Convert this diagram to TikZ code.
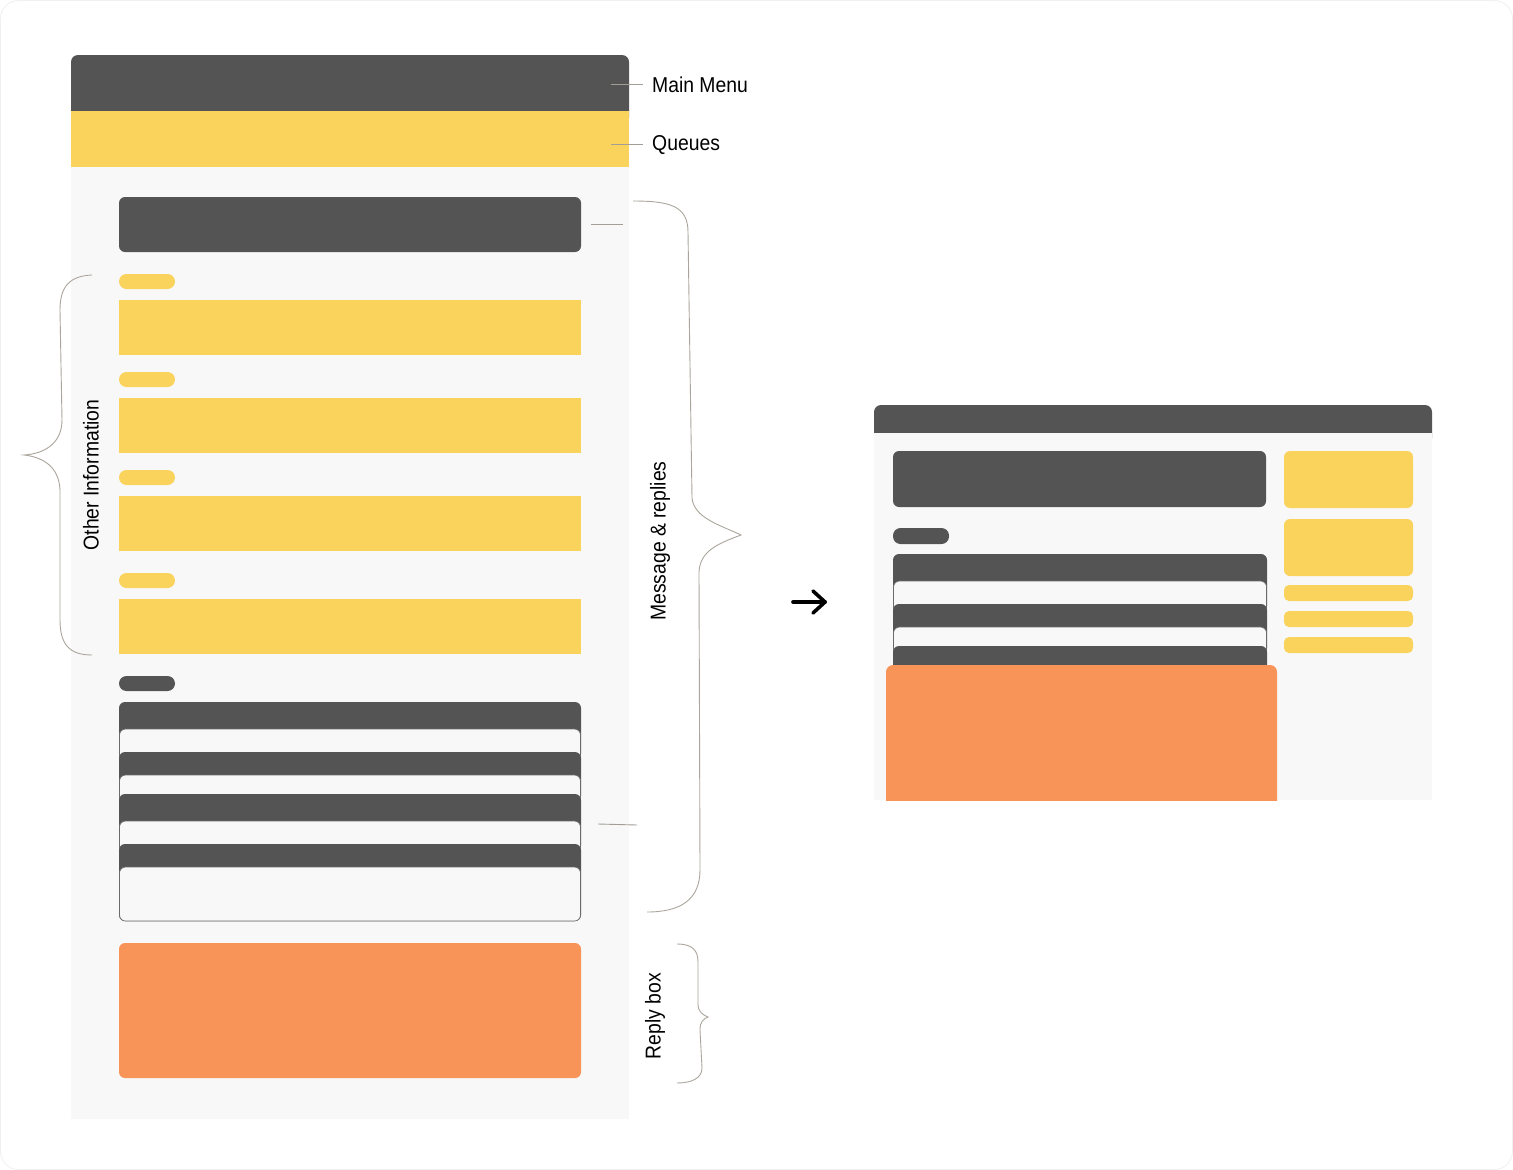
\documentclass[tikz,border=0pt]{standalone}
\usepackage{fontspec}
\setmainfont{Liberation Sans}[FakeStretch=0.9]
\usetikzlibrary{arrows.meta}
\definecolor{dk}{HTML}{545454}
\definecolor{yl}{HTML}{FAD35C}
\definecolor{orng}{HTML}{F99459}
\definecolor{lt}{HTML}{F8F8F8}
\definecolor{brc}{HTML}{ABA69D}
\definecolor{cardline}{HTML}{6A6A6A}
\tikzset{
  lbl/.style={font=\fontsize{21.5}{26}\selectfont, text=black, inner sep=0pt},
  bracepath/.style={draw=brc, line width=0.9pt},
  ptr/.style={draw=brc!80!gray, line width=0.9pt},
  cardbody/.style={fill=lt, draw=cardline, line width=0.7pt, rounded corners=6pt},
  cardhead/.style={fill=dk, rounded corners=6pt},
  pill/.style={rounded corners=7.5pt},
  arrowline/.style={line width=3.6pt, line cap=round, line join=round},
}
\begin{document}
\begin{tikzpicture}[x=1pt,y=-1pt]
\useasboundingbox (0,0) rectangle (1513,1170);
\draw[gray!12, fill=white, rounded corners=18pt, line width=0.8pt] (0.5,0.5) rectangle (1512.5,1169.5);

% ---------- left mockup ----------
\fill[dk, rounded corners=7pt] (71,55) rectangle (629,125);
\fill[yl] (71,111) rectangle (629,167);
\fill[lt] (71,167) rectangle (629,1119);

\fill[dk, rounded corners=6pt] (119,197) rectangle (581,252);

\fill[yl, pill] (119,274) rectangle (175,289);
\fill[yl] (119,300) rectangle (581,355);
\fill[yl, pill] (119,372) rectangle (175,387);
\fill[yl] (119,398) rectangle (581,453);
\fill[yl, pill] (119,470) rectangle (175,485);
\fill[yl] (119,496) rectangle (581,551);
\fill[yl, pill] (119,573) rectangle (175,588);
\fill[yl] (119,599) rectangle (581,654);

\fill[dk, pill] (119,676) rectangle (175,691);

\path[cardhead] (119,702) rectangle (581,760);
\path[cardbody] (119.5,729) rectangle (580.5,760);
\path[cardhead] (119,752) rectangle (581,802);
\path[cardbody] (119.5,775) rectangle (580.5,802);
\path[cardhead] (119,794) rectangle (581,852);
\path[cardbody] (119.5,821) rectangle (580.5,852);
\path[cardhead] (119,844) rectangle (581,921);
\path[cardbody] (119.5,867) rectangle (580.5,921);

\fill[orng, rounded corners=6pt] (119,943) rectangle (581,1078);

% labels and pointers
\node[lbl, anchor=base west] (mainmenu) at (652,92) {Main Menu};
\node[lbl, anchor=base west] (queues) at (652,150) {Queues};
\coordinate (mmA) at (611,84);
\coordinate (mmB) at (643,84);
\coordinate (qA) at (611,144);
\coordinate (qB) at (643,144);
\draw[ptr] (mmA) -- (mmB);
\draw[ptr] (qA) -- (qB);

\coordinate (msgA) at (591,224);
\coordinate (msgB) at (623,224);
\draw[ptr] (msgA) -- (msgB);
\coordinate (repA) at (598,824);
\coordinate (repB) at (637,825);
\draw[ptr] (repA) -- (repB);

% braces
\draw[bracepath] (92,275) .. controls (70,276) and (60,286) .. (60,310) -- (62,420)
  .. controls (62,445) and (42,454) .. (24,455)
  .. controls (42,457) and (59,466) .. (60,490) -- (60,620)
  .. controls (60,645) and (70,655) .. (92,655);
\node[lbl, rotate=90] (otherinfo) at (91,475) {Other Information};

\draw[bracepath] (633,201) .. controls (670,201) and (688,206) .. (688,232) -- (692,498)
  .. controls (694,518) and (720,525) .. (741,535)
  .. controls (720,543) and (700,550) .. (699,572) -- (700,870)
  .. controls (700,900) and (680,912) .. (647,912);
\node[lbl, rotate=90] (msgreplies) at (660,541) {Message \& replies};

\draw[bracepath] (677,944) .. controls (692,944) and (698,950) .. (698,962) -- (698,1004)
  .. controls (698,1012) and (703,1015) .. (708,1017)
  .. controls (703,1019) and (700,1022) .. (700,1030) -- (702,1068)
  .. controls (702,1078) and (692,1083) .. (677,1083);
\node[lbl, rotate=90] (replybox) at (655,1016) {Reply box};

% arrow
\coordinate (arrA) at (793,602);
\coordinate (arrB) at (825,602);
\draw[arrowline] (arrA) -- (arrB);
\draw[arrowline] ([shift={(-12,-11)}]arrB) -- (arrB) -- ([shift={(-12,11)}]arrB);

% ---------- right mockup ----------
\fill[dk, rounded corners=7pt] (874,405) rectangle (1432,445);
\fill[lt] (874,433) rectangle (1432,800);

\fill[dk, rounded corners=6pt] (893,451) rectangle (1266,507);
\fill[dk, pill] (893,528) rectangle (949,544);

\fill[yl, rounded corners=6pt] (1284,451) rectangle (1413,508);
\fill[yl, rounded corners=6pt] (1284,519) rectangle (1413,576);
\fill[yl, rounded corners=5pt] (1284,585) rectangle (1413,601);
\fill[yl, rounded corners=5pt] (1284,611) rectangle (1413,627);
\fill[yl, rounded corners=5pt] (1284,637) rectangle (1413,653);

\path[cardhead] (893,554) rectangle (1267,612);
\path[cardbody] (893.5,581) rectangle (1266.5,612);
\path[cardhead] (893,604) rectangle (1267,654);
\path[cardbody] (893.5,627) rectangle (1266.5,654);
\path[cardhead] (893,646) rectangle (1267,700);

\begin{scope}
\clip (874,433) rectangle (1432,800);
\fill[orng, rounded corners=7pt] (886,665) rectangle (1277,820);
\end{scope}
\end{tikzpicture}
\end{document}
